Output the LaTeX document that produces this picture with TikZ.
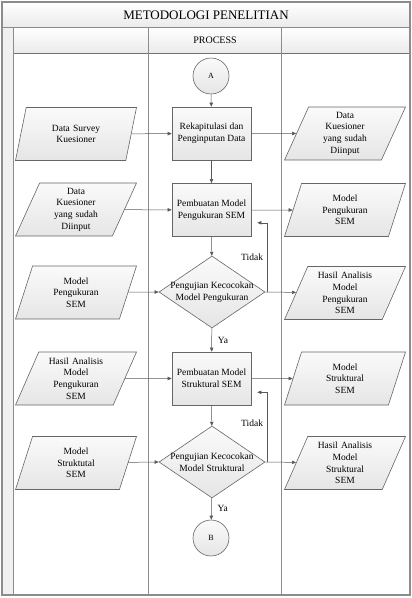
\documentclass[tikz,border=0pt]{standalone}
\usepackage{fontspec}
\setmainfont{Liberation Serif}
\usetikzlibrary{shapes.geometric,arrows.meta,calc}

\begin{document}
\begin{tikzpicture}[x=1pt,y=-1pt,
    >={Triangle[length=4pt,width=3.4pt]},
    every node/.style={font=\fontsize{9.5}{11.7}\selectfont},
    frame/.style={draw=black!45,line width=1pt},
    band/.style={top color=white,bottom color=black!8,draw=none},
    shp/.style={draw=black!60,line width=0.6pt,top color=black!2,bottom color=black!10},
    proc/.style={shp,minimum width=79pt,minimum height=53pt,inner sep=1pt,align=center},
    dec/.style={shp,diamond,minimum width=106pt,minimum height=72pt,inner sep=0pt},
    io/.style={shp,trapezium,trapezium left angle=62,trapezium right angle=118,
        trapezium stretches body,minimum width=121pt,minimum height=53pt,
        inner sep=1pt,text width=58pt,align=center},
    conn/.style={shp,circle,minimum size=36pt,inner sep=0pt,font=\fontsize{8}{9}\selectfont},
    flow/.style={draw=black!65,line width=0.5pt,->}]
\useasboundingbox (0,0) rectangle (412,598);
\fill[band] (2,2) rectangle (410,27);
\fill[band] (13,27) rectangle (410,53);
\fill[black!6] (2,27) rectangle (13,595);
\draw[frame] (2,27) -- (410,27);
\draw[frame,draw=black!55] (13,53) -- (410,53);
\draw[frame] (13,27) -- (13,595);
\draw[frame] (148.5,27) -- (148.5,595);
\draw[frame] (281,27) -- (281,595);
\draw[frame,line width=1.4pt] (2,2) rectangle (410,595);

\node (title) at (206,15) {\fontsize{13}{15}\selectfont METODOLOGI PENELITIAN};
\node (lane) at (215,40.5) {\fontsize{10}{12}\selectfont PROCESS};

\node[conn] (ca) at (211,76) {A};
\node[proc] (rekap) at (211.5,133.5) {Rekapitulasi dan\\Penginputan Data};
\node[proc] (mp) at (211.5,210) {Pembuatan Model\\Pengukuran SEM};
\node[dec,label={[align=center]center:Pengujian Kecocokan\\Model Pengukuran}] (uji1) at (212,292) {};
\node[proc] (ms) at (211.5,378.5) {Pembuatan Model\\Struktural SEM};
\node[dec,label={[align=center]center:Pengujian Kecocokan\\Model Struktural}] (uji2) at (212,462) {};
\node[conn] (cb) at (211,538) {B};

\node[io] (in1) at (76,134) {Data Survey\\Kuesioner};
\node[io] (in2) at (76,209.5) {Data\\Kuesioner\\yang sudah\\Diinput};
\node[io] (in3) at (76,292.5) {Model\\Pengukuran\\SEM};
\node[io] (in4) at (76,378.5) {Hasil Analisis\\Model\\Pengukuran\\SEM};
\node[io] (in5) at (76,463) {Model\\Struktutal\\SEM};

\node[io] (out1) at (345,133.5) {Data\\Kuesioner\\yang sudah\\Diinput};
\node[io] (out2) at (345,210) {Model\\Pengukuran\\SEM};
\node[io] (out3) at (345,293) {Hasil Analisis\\Model\\Pengukuran\\SEM};
\node[io] (out4) at (345,378.5) {Model\\Struktural\\SEM};
\node[io] (out5) at (345,463) {Hasil Analisis\\Model\\Struktural\\SEM};

\draw[flow] (ca) -- (rekap);
\draw[flow] (rekap) -- (mp);
\draw[flow] (mp) -- (uji1);
\draw[flow] (uji1) -- node[right,inner sep=6pt] {Ya} (ms);
\draw[flow] (ms) -- (uji2);
\draw[flow] (uji2) -- node[right,inner sep=6pt] {Ya} (cb);

\draw[flow] (in1) -- (rekap);
\draw[flow] (in2) -- (mp);
\draw[flow] (in3) -- (uji1.west);
\draw[flow] (in4) -- (ms);
\draw[flow] (in5) -- (uji2.west);

\draw[flow] (rekap) -- (out1);
\draw[flow] (mp) -- (out2);
\draw[flow] (uji1.east) -- (out3);
\draw[flow] (ms) -- (out4);
\draw[flow] (uji2.east) -- (out5);

\draw[flow] ($(uji1.east)+(2,0)$) |- node[pos=0.25,left,inner sep=4pt] {Tidak} ([xshift=6pt,yshift=14pt]mp.south east);
\draw[flow] ($(uji2.east)+(2,0)$) |- node[pos=0.28,left,inner sep=4pt] {Tidak} ([xshift=6pt,yshift=13pt]ms.south east);
\end{tikzpicture}
\end{document}
